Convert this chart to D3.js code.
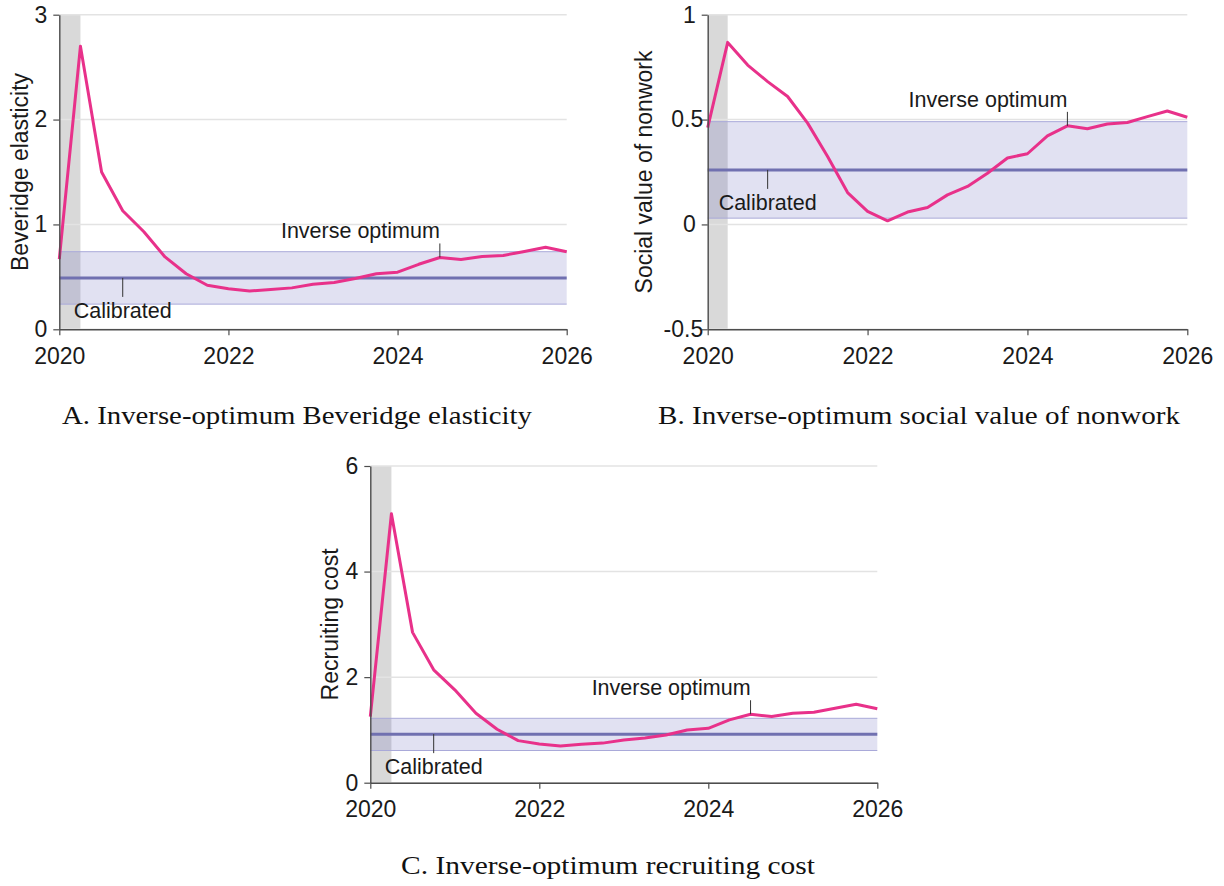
<!DOCTYPE html>
<html>
<head>
<meta charset="utf-8">
<script src="https://cdn.jsdelivr.net/npm/d3@7"></script>
<style>
body { margin: 0; background: #fff; }
svg text { font-family: "Liberation Sans", Arial, Helvetica, sans-serif; fill: #1a1a1a; }
svg text.title { font-family: "Liberation Serif", "Times New Roman", serif; fill: #111; }
</style>
</head>
<body>
<script>
// quarterly dates, 2020Q1 .. 2026Q1
var quarters = [2020, 2020.25, 2020.5, 2020.75, 2021, 2021.25, 2021.5, 2021.75,
                2022, 2022.25, 2022.5, 2022.75, 2023, 2023.25, 2023.5, 2023.75,
                2024, 2024.25, 2024.5, 2024.75, 2025, 2025.25, 2025.5, 2025.75, 2026];

// inverse-optimum series
var beveridge = [0.67, 2.70, 1.50, 1.13, 0.93, 0.69, 0.53, 0.42,
                 0.387, 0.365, 0.38, 0.395, 0.43, 0.446, 0.484, 0.53,
                 0.545, 0.62, 0.685, 0.666, 0.694, 0.704, 0.742, 0.783, 0.739];
var nonwork = [0.462, 0.868, 0.760, 0.681, 0.610, 0.483, 0.324, 0.152,
               0.062, 0.017, 0.059, 0.081, 0.141, 0.181, 0.244, 0.317,
               0.337, 0.422, 0.470, 0.456, 0.479, 0.486, 0.514, 0.541, 0.511];
var recruiting = [1.253, 5.095, 2.848, 2.139, 1.76, 1.316, 1.013, 0.797,
                  0.734, 0.696, 0.728, 0.75, 0.81, 0.848, 0.905, 1.0,
                  1.03, 1.19, 1.297, 1.253, 1.316, 1.335, 1.41, 1.487, 1.40];

// calibrated values and their ranges (A, B, C)
var calibrated = [0.49, 0.26, 0.92];
var bandLow = [0.24, 0.03, 0.61];
var bandHigh = [0.74, 0.49, 1.22];

var recession = [2020, 2020.25];
var xTicks = [2020, 2022, 2024, 2026];
var yTicksA = [0, 1, 2, 3];
var yTicksB = [-0.5, 0, 0.5, 1];
var yTicksC = [0, 2, 4, 6];
var yTickLabelsB = ["-0.5", "0", "0.5", "1"];

var yLabels = ["Beveridge elasticity", "Social value of nonwork", "Recruiting cost"];
var titles = ["A. Inverse-optimum Beveridge elasticity",
              "B. Inverse-optimum social value of nonwork",
              "C. Inverse-optimum recruiting cost"];
var calibratedAt = 2020.75;
var optimumAt = 2024.5;

var svg = d3.select("body").append("svg")
    .attr("width", 1224)
    .attr("height", 886);

// layout of the three panels (pixel boxes)
var panels = [
  {series: beveridge, i: 0, yDomain: [0, 3], yTicks: yTicksA,
   left: 59.3, right: 566.7, top: 14.7, bottom: 329.3,
   labelX: 28, titleX: 297, titleY: 424, titleLen: 470},
  {series: nonwork, i: 1, yDomain: [-0.5, 1], yTicks: yTicksB, tickLabels: yTickLabelsB,
   left: 707.7, right: 1187.3, top: 14.7, bottom: 329.3,
   labelX: 651.5, titleX: 919, titleY: 424, titleLen: 522},
  {series: recruiting, i: 2, yDomain: [0, 6], yTicks: yTicksC,
   left: 370.3, right: 877.3, top: 466, bottom: 782.7,
   labelX: 338, titleX: 608, titleY: 874, titleLen: 414}
];

panels.forEach(drawPanel);

function drawPanel(p) {
  var x = d3.scaleLinear().domain([2020, 2026]).range([p.left, p.right]);
  var y = d3.scaleLinear().domain(p.yDomain).range([p.bottom, p.top]);
  var g = svg.append("g");

  // recession shading
  g.append("rect")
    .attr("x", x(recession[0]))
    .attr("y", p.top)
    .attr("width", x(recession[1]) - x(recession[0]))
    .attr("height", p.bottom - p.top)
    .attr("fill", "#d9d9d9");

  // horizontal gridlines
  g.append("g").selectAll("line")
    .data(p.yTicks)
    .join("line")
    .attr("x1", p.left).attr("x2", p.right)
    .attr("y1", function(d){ return y(d); })
    .attr("y2", function(d){ return y(d); })
    .attr("stroke", "#e3e3e3")
    .attr("stroke-width", 1.5);

  // calibrated range band
  g.append("rect")
    .attr("x", p.left)
    .attr("y", y(bandHigh[p.i]))
    .attr("width", p.right - p.left)
    .attr("height", y(bandLow[p.i]) - y(bandHigh[p.i]))
    .attr("fill", "rgba(105,105,190,0.2)");
  g.append("g").selectAll("line")
    .data([bandLow[p.i], bandHigh[p.i]])
    .join("line")
    .attr("x1", p.left).attr("x2", p.right)
    .attr("y1", function(d){ return y(d); })
    .attr("y2", function(d){ return y(d); })
    .attr("stroke", "#a9a9d9")
    .attr("stroke-width", 1);

  // calibrated value
  g.append("line")
    .attr("x1", p.left).attr("x2", p.right)
    .attr("y1", y(calibrated[p.i])).attr("y2", y(calibrated[p.i]))
    .attr("stroke", "#7070b0")
    .attr("stroke-width", 3);

  // inverse-optimum series
  var line = d3.line()
    .x(function(d, k){ return x(quarters[k]); })
    .y(function(d){ return y(d); });
  g.append("path")
    .datum(p.series)
    .attr("d", line)
    .attr("fill", "none")
    .attr("stroke", "#e8318a")
    .attr("stroke-width", 3)
    .attr("stroke-linejoin", "round");

  // axes
  var yAxis = d3.axisLeft(y)
    .tickValues(p.yTicks)
    .tickSize(6)
    .tickSizeOuter(0)
    .tickPadding(6)
    .tickFormat(d3.format("~g"));
  var ya = g.append("g")
    .attr("transform", "translate(" + p.left + ",0)")
    .call(yAxis);

  var xAxis = d3.axisBottom(x)
    .tickValues(xTicks)
    .tickSize(6)
    .tickSizeOuter(0)
    .tickPadding(12)
    .tickFormat(d3.format("d"));
  var xa = g.append("g")
    .attr("transform", "translate(0," + p.bottom + ")")
    .call(xAxis);

  [ya, xa].forEach(function(a){
    a.select(".domain").attr("stroke", "#4d4d4d").attr("stroke-width", 1.4);
    a.selectAll(".tick line").attr("stroke", "#4d4d4d").attr("stroke-width", 1.2);
    a.selectAll("text")
      .attr("fill", "#0d0d0d")
      .style("font-size", "23px")
      .style("font-family", "'Liberation Sans', Arial, Helvetica, sans-serif");
  });
  if (p.tickLabels) {
    ya.selectAll(".tick text")
      .text(function(d, k){ return p.tickLabels[k]; })
      .attr("x", function(d){ return Number.isInteger(d) ? -12 : -4.5; });
  }

  // y label
  g.append("text")
    .attr("transform", "translate(" + p.labelX + "," + ((p.top + p.bottom) / 2) + ") rotate(-90)")
    .attr("text-anchor", "middle")
    .style("font-size", "23px")
    .attr("fill", "#0d0d0d")
    .text(yLabels[p.i]);

  // "Calibrated" annotation
  var cx = x(calibratedAt), cy = y(calibrated[p.i]);
  g.append("line")
    .attr("x1", cx).attr("x2", cx)
    .attr("y1", cy).attr("y2", cy + 19)
    .attr("stroke", "#333").attr("stroke-width", 1);
  g.append("text")
    .attr("x", cx).attr("y", cy + 40)
    .attr("text-anchor", "middle")
    .style("font-size", "21.5px")
    .attr("fill", "#262626")
    .text("Calibrated");

  // "Inverse optimum" annotation
  var k = quarters.indexOf(optimumAt);
  var ox = x(optimumAt), oy = y(p.series[k]);
  g.append("line")
    .attr("x1", ox).attr("x2", ox)
    .attr("y1", oy).attr("y2", oy - 14)
    .attr("stroke", "#333").attr("stroke-width", 1);
  g.append("text")
    .attr("x", ox).attr("y", oy - 19)
    .attr("text-anchor", "end")
    .style("font-size", "21.5px")
    .attr("fill", "#262626")
    .text("Inverse optimum");

  // panel title
  g.append("text")
    .attr("class", "title")
    .attr("x", p.titleX).attr("y", p.titleY)
    .attr("text-anchor", "middle")
    .attr("textLength", p.titleLen)
    .attr("lengthAdjust", "spacingAndGlyphs")
    .style("font-size", "25px")
    .text(titles[p.i]);
}
</script>
</body>
</html>
